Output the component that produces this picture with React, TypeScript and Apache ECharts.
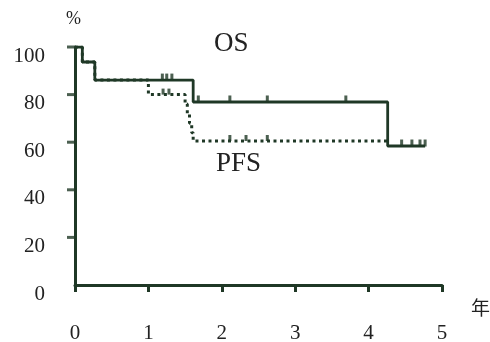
import React, { useEffect, useRef } from "react";
import * as echarts from "echarts";

const xTicks = [0, 1, 2, 3, 4, 5];
const yTicks = [0, 20, 40, 60, 80, 100];

// OS Kaplan-Meier steps [years, %]
const osSteps: [number, number][] = [
  [0, 100], [0.1, 93.7], [0.27, 86.1], [1.61, 76.9], [4.26, 58.4], [4.77, 58.4],
];
// PFS steps [years, %]
const pfsSteps: [number, number][] = [
  [0, 100], [0.1, 93.7], [0.27, 86.1], [1.0, 80], [1.5, 76], [1.53, 72],
  [1.56, 68], [1.59, 64], [1.61, 60.5], [4.26, 60.5],
];
// censor marks
const osCensor: [number, number][] = [
  [1.19, 86.1], [1.25, 86.1], [1.32, 86.1],
  [1.68, 76.9], [2.11, 76.9], [2.62, 76.9], [3.69, 76.9],
  [4.45, 58.4], [4.59, 58.4], [4.7, 58.4], [4.77, 58.4],
];
const pfsCensor: [number, number][] = [
  [1.2, 80], [1.28, 80], [2.11, 60.5], [2.33, 60.5], [2.62, 60.5],
];

const INK = "#1f3826";
const TXT = "#222222";
const FONT = "Liberation Serif";

export default function App() {
  const ref = useRef<HTMLDivElement>(null);
  useEffect(() => {
    const chart = echarts.init(ref.current!, null, { renderer: "svg" });
    chart.setOption({
      animation: false,
      grid: { left: 75, right: 48, top: 47, bottom: 57 },
      xAxis: {
        type: "value",
        min: xTicks[0],
        max: xTicks[xTicks.length - 1],
        interval: 1,
        splitLine: { show: false },
        axisLine: { show: true, lineStyle: { color: INK, width: 3 } },
        axisTick: { show: true, length: 7, lineStyle: { color: INK, width: 3 } },
        axisLabel: { color: TXT, fontFamily: FONT, fontSize: 21, margin: 36 },
      },
      yAxis: {
        type: "value",
        min: yTicks[0],
        max: yTicks[yTicks.length - 1],
        interval: 20,
        splitLine: { show: false },
        axisLine: { show: true, lineStyle: { color: INK, width: 3 } },
        axisTick: { show: false },
        axisLabel: {
          color: TXT, fontFamily: FONT, fontSize: 21, margin: 30,
          verticalAlign: "top", lineHeight: 15,
        },
      },
      graphic: [
        { type: "text", left: 66, top: 9, style: { text: "%", fontFamily: FONT, fontSize: 18, fill: TXT } },
        { type: "text", left: 214, top: 28, style: { text: "OS", fontFamily: FONT, fontSize: 27, fill: TXT } },
        { type: "text", left: 216, top: 148, style: { text: "PFS", fontFamily: FONT, fontSize: 27, fill: TXT } },
        { type: "text", left: 471, top: 297, style: { text: "年", fontFamily: "Noto Sans CJK SC", fontSize: 19, fill: TXT } },
      ],
      series: [
        {
          type: "line", step: "end", data: pfsSteps, showSymbol: false, z: 2,
          lineStyle: { color: INK, width: 3, type: [3, 3.5] },
        },
        {
          type: "line", step: "end", data: osSteps, showSymbol: false, z: 3,
          lineStyle: { color: INK, width: 2.8 },
        },
        {
          type: "scatter", data: osCensor, symbol: "rect", symbolSize: [3, 7],
          symbolOffset: [0, -3], itemStyle: { color: INK }, z: 4,
        },
        {
          type: "scatter", data: pfsCensor, symbol: "rect", symbolSize: [3, 6],
          symbolOffset: [0, -3], itemStyle: { color: INK }, z: 4,
        },
        {
          // y-axis tick marks (outward, left)
          type: "scatter", clip: false, silent: true,
          data: yTicks.filter((v) => v > 0).map((v) => [0, v]),
          symbol: "rect", symbolSize: [8, 3], symbolOffset: [-4, 0],
          itemStyle: { color: INK }, z: 5,
        },
      ],
    });
    return () => chart.dispose();
  }, []);
  return (
    <div
      ref={ref}
      style={{ position: "fixed", left: 0, top: 0, width: 490, height: 342 }}
    />
  );
}
